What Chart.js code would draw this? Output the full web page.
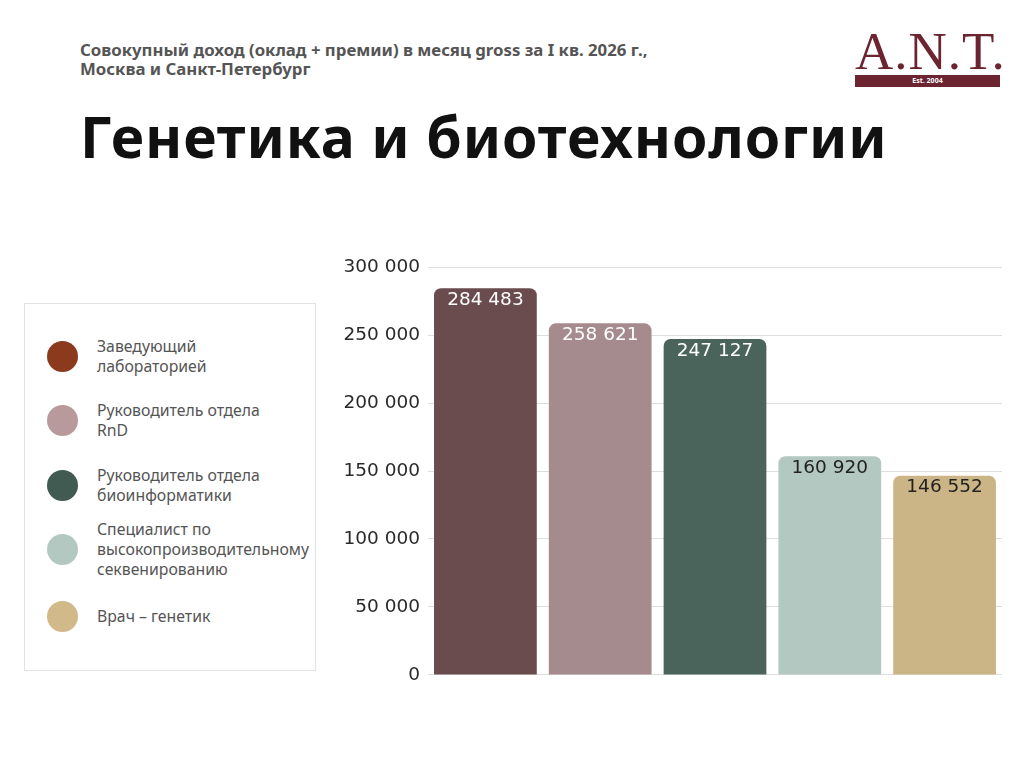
<!DOCTYPE html>
<html lang="ru">
<head>
<meta charset="utf-8">
<script src="https://cdn.jsdelivr.net/npm/chart.js@4"></script>
<style>
  body { margin: 0; width: 1024px; height: 768px; background: #fff; font-family: "Noto Sans", Lato, sans-serif; position: relative; overflow: hidden; }
  .subtitle { position: absolute; left: 80px; top: 40px; font-size: 16.8px; font-weight: 700; color: #555; line-height: 19px; }
  .title { position: absolute; left: 80px; top: 97px; font-size: 57px; font-weight: 700; color: #111; letter-spacing: 0.9px; }
  .logo { position: absolute; left: 855px; top: 26px; width: 145px; text-align: center; color: #6b2430; }
  .logo .ant { font-family: "Liberation Serif", "DejaVu Serif", serif; font-size: 53px; line-height: 50px; letter-spacing: 1px; }
  .logo .est { background: #6b2430; color: #fff; font-size: 7px; font-weight: 700; height: 12px; line-height: 12px; margin-top: -1px; }
  .legend { position: absolute; left: 24px; top: 303px; width: 290px; height: 366px; border: 1px solid #e2e2e2; }
  .item { position: absolute; left: 22px; display: flex; align-items: center; }
  .dot { width: 31px; height: 31px; border-radius: 50%; flex: none; }
  .item span { margin-left: 19px; font-size: 15.8px; color: #555; line-height: 20px; white-space: nowrap; }
  #wrap { position: absolute; left: 323px; top: 248px; width: 679px; height: 446px; }
</style>
</head>
<body>
<div class="subtitle">Совокупный доход (оклад + премии) в месяц gross за I кв. 2026 г.,<br>Москва и Санкт-Петербург</div>
<div class="title">Генетика и биотехнологии</div>
<div class="logo"><div class="ant">A.N.T.</div><div class="est">Est. 2004</div></div>
<div class="legend" id="legend"></div>
<div id="wrap"><canvas id="salaryChart"></canvas></div>
<script>
const positions = ['Заведующий лабораторией', 'Руководитель отдела RnD', 'Руководитель отдела биоинформатики', 'Специалист по высокопроизводительному секвенированию', 'Врач – генетик'];
const legendLines = [['Заведующий', 'лабораторией'], ['Руководитель отдела', 'RnD'], ['Руководитель отдела', 'биоинформатики'], ['Специалист по', 'высокопроизводительному', 'секвенированию'], ['Врач – генетик']];
const salaries = [284483, 258621, 247127, 160920, 146552];
const barColors = ['#6a4c4e', '#a68b8e', '#4a645c', '#b3c8c1', '#cbb586'];
const legendColors = ['#8b3a1e', '#b89a9c', '#415a52', '#b3c8c1', '#d2b98a'];
const labelColors = ['#ffffff', '#ffffff', '#ffffff', '#222222', '#222222'];
const yTicks = [0, 50000, 100000, 150000, 200000, 250000, 300000];

function formatNumber(value) {
    return value.toString().replace(/\B(?=(\d{3})+(?!\d))/g, ' ');
}

function buildLegend() {
    const legend = document.getElementById('legend');
    const centers = [52, 116, 181, 245, 312];
    legendLines.forEach((lines, i) => {
        const item = document.createElement('div');
        item.className = 'item';
        item.style.top = (centers[i] - lines.length * 10) + 'px';
        item.style.height = (lines.length * 20) + 'px';
        item.innerHTML = '<div class="dot" style="background:' + legendColors[i] + '"></div><span>' + lines.join('<br>') + '</span>';
        legend.appendChild(item);
    });
}

// draws the value inside the top of each bar
const valueLabels = {
    id: 'valueLabels',
    afterDatasetsDraw(chart) {
        const ctx = chart.ctx;
        const meta = chart.getDatasetMeta(0);
        ctx.save();
        ctx.font = '18.5px "DejaVu Sans", "Noto Sans", sans-serif';
        ctx.textAlign = 'center';
        ctx.textBaseline = 'middle';
        meta.data.forEach((bar, i) => {
            ctx.fillStyle = labelColors[i];
            ctx.fillText(formatNumber(salaries[i]), bar.x, bar.y + 12);
        });
        ctx.restore();
    }
};

buildLegend();

const ctx = document.getElementById('salaryChart').getContext('2d');
const salaryChart = new Chart(ctx, {
    type: 'bar',
    data: {
        labels: positions,
        datasets: [{
            data: salaries,
            backgroundColor: barColors,
            borderRadius: { topLeft: 7, topRight: 7 },
            borderSkipped: 'bottom',
            barPercentage: 0.895,
            categoryPercentage: 1
        }]
    },
    options: {
        responsive: true,
        maintainAspectRatio: false,
        animation: false,
        layout: { padding: 0 },
        plugins: {
            legend: { display: false },
            tooltip: { enabled: false }
        },
        scales: {
            x: {
                display: false
            },
            y: {
                min: 0,
                max: 300000,
                afterBuildTicks: axis => { axis.ticks = yTicks.map(v => ({ value: v })); },
                afterFit: axis => { axis.width = 105; },
                ticks: {
                    color: '#2a2a2a',
                    font: { family: '"DejaVu Sans", "Noto Sans", sans-serif', size: 18.5 },
                    padding: 8,
                    callback: value => formatNumber(value)
                },
                grid: { color: '#dedede', drawTicks: false },
                border: { display: false }
            }
        }
    },
    plugins: [valueLabels]
});
</script>
</body>
</html>
